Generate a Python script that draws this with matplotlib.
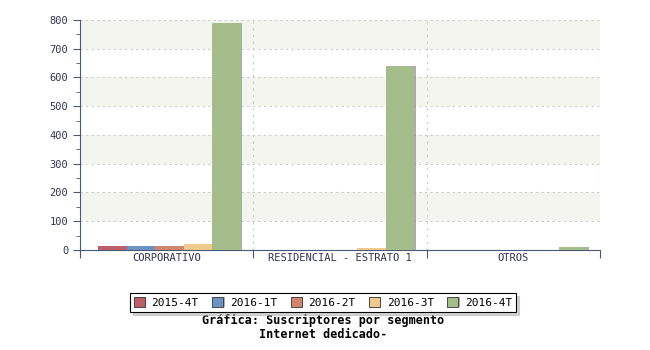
import numpy as np
import matplotlib.pyplot as plt
from matplotlib.ticker import MultipleLocator
import matplotlib.patheffects as pe

categories = ["CORPORATIVO", "RESIDENCIAL - ESTRATO 1", "OTROS"]
series = ["2015-4T", "2016-1T", "2016-2T", "2016-3T", "2016-4T"]
values = [
    [12, 0, 0],
    [12, 0, 0],
    [15, 0, 0],
    [19, 5, 0],
    [790, 640, 10],
]
colors = ["#bd5f6b", "#6b93c2", "#d0866d", "#eecb8c", "#a4bd8b"]

plt.rcParams['font.family'] = ['DejaVu Sans Mono']
axis_col = "#4a5878"

fig = plt.figure(figsize=(6.5, 3.5), dpi=100)
ax = fig.add_axes([0.123, 0.286, 0.8, 0.657])

# alternating bands
for lo in range(100, 800, 200):
    ax.axhspan(lo, lo + 100, color="#f5f5f0", zorder=0, lw=0)

x = np.arange(len(categories))
w = 0.165
start = -0.5 + 18 / 173 + w / 2
for i, (s, v, c) in enumerate(zip(series, values, colors)):
    ax.bar(x + start + i * w, v, width=w, color=c, label=s, zorder=3,
           path_effects=[pe.SimplePatchShadow(offset=(1, 0), shadow_rgbFace="#999999", alpha=0.8), pe.Normal()])

ax.set_xlim(-0.5, 2.5)
ax.set_ylim(0, 800)
ax.yaxis.set_major_locator(MultipleLocator(100))
ax.yaxis.set_minor_locator(MultipleLocator(50))
ax.set_xticks([-0.5, 0.5, 1.5, 2.5])
ax.set_xticklabels([])
ax.set_xticks(x, minor=True)
ax.set_xticklabels(categories, minor=True)
ax.tick_params(axis="x", which="minor", length=0, pad=2)
ax.tick_params(axis="x", which="major", length=6, color=axis_col, direction="out")
ax.tick_params(axis="y", which="major", length=5, color=axis_col)
ax.tick_params(axis="y", which="minor", length=3, color=axis_col)
ax.tick_params(which="both", labelsize=7.5, labelcolor="#333355")

ax.grid(axis="y", which="major", linestyle=(0, (2, 3)), color="#cccccc", lw=0.8, zorder=1)
for b in [0.5, 1.5, 2.5]:
    ax.axvline(b, linestyle=(0, (2, 4)), color="#cccccc", lw=0.8, zorder=1)

for sp in ["top", "right"]:
    ax.spines[sp].set_visible(False)
for sp in ["left", "bottom"]:
    ax.spines[sp].set_color(axis_col)

leg = fig.legend(loc="center", bbox_to_anchor=(0.497, 0.135), ncol=5, fontsize=8,
                 frameon=True, fancybox=False, shadow={"ox": 2, "oy": -2, "color": "#aaaaaa"},
                 edgecolor="black",
                 handlelength=1.0, handleheight=1.0, columnspacing=1.2, borderpad=0.35,
                 handletextpad=0.6)
leg.get_frame().set_linewidth(0.8)
for h in leg.legend_handles:
    h.set_edgecolor("#333333")
    h.set_linewidth(0.6)

fig.text(0.497, 0.073, "Gráfica: Suscriptores por segmento", ha="center",
         fontsize=8.5, fontweight="bold")
fig.text(0.497, 0.033, "Internet dedicado-", ha="center", fontsize=8.5,
         fontweight="bold")

fig.savefig("out.png", dpi=100)
